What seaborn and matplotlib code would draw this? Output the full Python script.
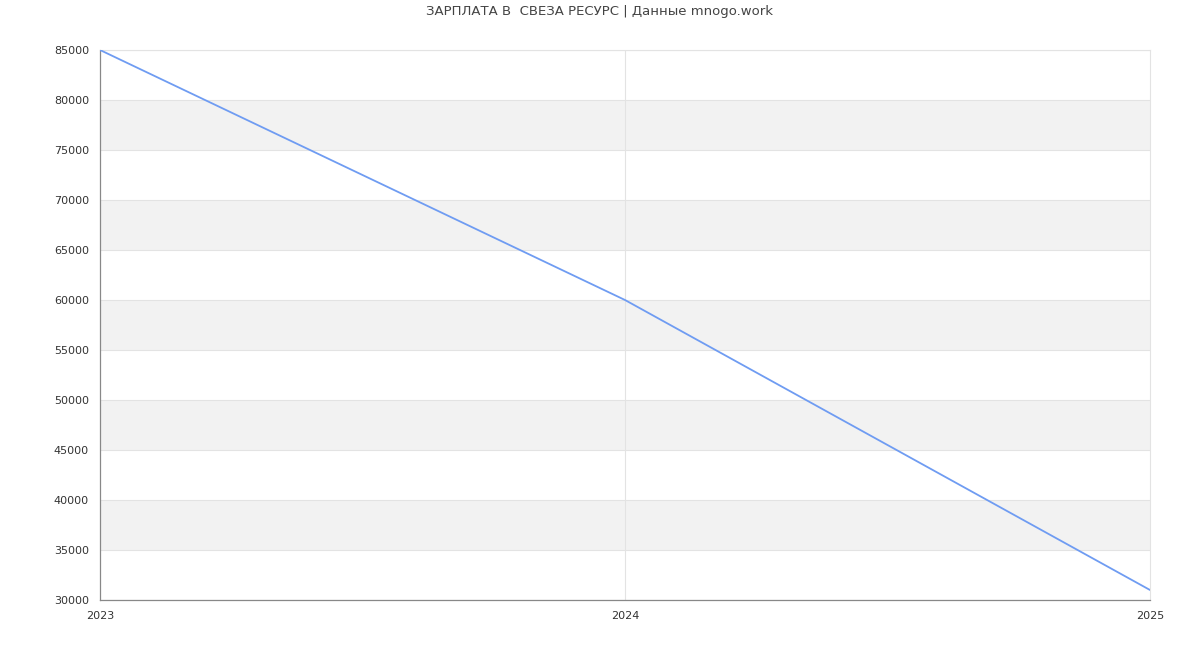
import matplotlib
matplotlib.use("Agg")
import matplotlib.pyplot as plt
import seaborn as sns
import pandas as pd

years = [2023, 2024, 2025]
salary = [85000, 60000, 31000]
y_ticks = list(range(30000, 85001, 5000))
title = "ЗАРПЛАТА В  СВЕЗА РЕСУРС | Данные mnogo.work"

sns.set_style("white")
plt.rcParams["font.family"] = ["DejaVu Sans"]

df = pd.DataFrame({"year": years, "salary": salary})

fig = plt.figure(figsize=(12, 6.5), dpi=100)
ax = fig.add_axes([100 / 1200, 50 / 650, 1050 / 1200, 550 / 650])

# alternating bands
for lo in range(35000, 85000, 10000):
    ax.axhspan(lo, lo + 5000, color="#f2f2f2", zorder=0, lw=0)
for y in y_ticks:
    ax.axhline(y, color="#e3e3e3", lw=0.8, zorder=1)
ax.axvline(2024, color="#e3e3e3", lw=0.8, zorder=1)

sns.lineplot(data=df, x="year", y="salary", color="#6f9cf2", lw=1.3, ax=ax, zorder=3)

ax.set_xlim(2023, 2025)
ax.set_ylim(30000, 85000)
ax.set_xticks(years)
ax.set_xticklabels([str(y) for y in years])
ax.set_yticks(y_ticks)
ax.set_xlabel("")
ax.set_ylabel("")
ax.tick_params(axis="y", length=5, width=0.8, color="#888888", labelsize=8, labelcolor="#333333", pad=3)
ax.tick_params(axis="x", length=0, labelsize=8, labelcolor="#333333", pad=8)

for s in ["left", "bottom"]:
    ax.spines[s].set_color("#888888")
    ax.spines[s].set_linewidth(0.9)
for s in ["top", "right"]:
    ax.spines[s].set_color("#e3e3e3")
    ax.spines[s].set_linewidth(0.8)

fig.text(0.5, 1 - 12 / 650, title, ha="center", va="center", fontsize=9.5, color="#444444")

fig.savefig("out.png", dpi=100)
